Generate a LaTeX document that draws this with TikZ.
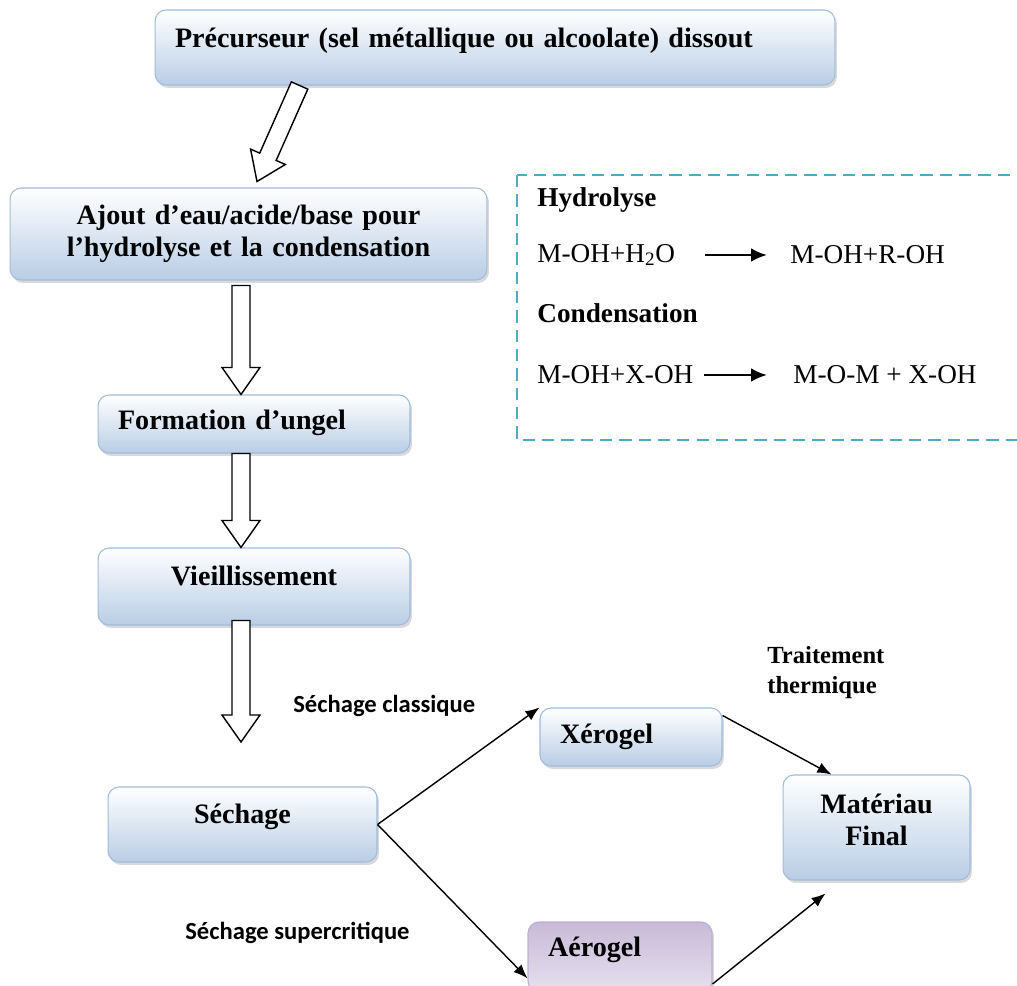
\documentclass[tikz,border=0pt]{standalone}
\usepackage{fontspec}
\setmainfont{Liberation Serif}
\newfontfamily\labelfont{Carlito}
\usepackage{tikz}
\usetikzlibrary{positioning,shadows,arrows.meta,shapes,calc}

\definecolor{boxblue}{RGB}{185,205,229}
\definecolor{boxline}{RGB}{160,188,220}
\definecolor{aerotop}{RGB}{200,186,216}
\definecolor{aerobottom}{RGB}{230,225,238}
\definecolor{aeroline}{RGB}{190,175,210}
\definecolor{dashblue}{RGB}{75,172,198}

\tikzset {
    style A/.style={
        top color=white,
        bottom color=boxblue,
        draw=boxline,
        semithick,
        rectangle, % Set the shape as a rectangle
        rounded corners=.22cm,
        inner xsep=.4cm,
        font=\fontsize{16}{18}\selectfont\bfseries,
        drop shadow={opacity=.3, shadow xshift=.04cm, shadow yshift=-.06cm},
    },
    style B/.style={
        style A,
        top color=aerotop,
        bottom color=aerobottom,
        draw=aeroline,
    },
    style C/.style={
        font=\labelfont\fontsize{14}{17}\selectfont\bfseries,
        inner sep=0pt,
        anchor=west,
    },
    style D/.style={
        font=\fontsize{15.5}{18}\selectfont,
        inner sep=0pt,
        anchor=west,
    },
    style E/.style={
        draw=black,
        fill=white,
        line width=.8pt,
        line join=miter,
    },
    style F/.style={
        thick,
        -{Latex[length=.28cm,width=.22cm]},
    },
    style G/.style={
        line width=1.6pt,
        -{Latex[length=.32cm,width=.28cm]},
    },
}

% hollow block arrow between two points
\newcommand{\hollowarrow}[2]{%
    \coordinate (ha tail) at (#1);
    \coordinate (ha tip) at (#2);
    \coordinate (ha head) at ($(ha tip)!.54cm!(ha tail)$);
    \draw[style E] ($(ha tail)!.18cm!90:(ha tip)$)
        -- ($(ha head)!.18cm!90:(ha tip)$)
        -- ($(ha head)!.38cm!90:(ha tip)$)
        -- (ha tip)
        -- ($(ha head)!.38cm!-90:(ha tip)$)
        -- ($(ha head)!.18cm!-90:(ha tip)$)
        -- ($(ha tail)!.18cm!-90:(ha tip)$) -- cycle;
}

\begin{document}
\begin{tikzpicture}[x=.02cm, y=-.02cm]
    \useasboundingbox (0,0) rectangle (1017,986);
    \coordinate (axis) at (241,0);

    \node[style A, text width=12.8cm, minimum height=1.5cm, align=left, text depth=.38cm] (prec) at (495,47.5) {Précurseur (sel métallique ou alcoolate) dissout};
    \node[style A, text width=8.74cm, minimum height=1.84cm, align=center] (ajout) at (248.5,234) {Ajout d’eau/acide/base pour\\l’hydrolyse et la condensation};
    \node[style A, text width=5.44cm, minimum height=1.16cm, align=left, text depth=.16cm] (formation) at (254,424) {Formation d’ungel};
    \node[style A, text width=5.44cm, minimum height=1.54cm, align=center, text depth=.44cm] (vieil) at (254,586.5) {Vieillissement};
    \node[style A, text width=4.58cm, minimum height=1.5cm, align=center, text depth=.44cm] (sechage) at (242.5,824.5) {Séchage};
    \node[style A, text width=2.84cm, minimum height=1.16cm, align=left] (xerogel) at (631,737) {Xérogel};
    \node[style B, text width=2.88cm, minimum height=1.4cm, align=left, text depth=.4cm] (aerogel) at (620,957) {Aérogel};
    \node[style A, text width=2.94cm, minimum height=2.1cm, align=center, text depth=.95cm] (materiau) at (876.5,827.5) {Matériau\\Final};

    \draw[dashblue, line width=1pt, dash pattern=on 7pt off 4pt] (517,175) rectangle (1030,440);
    \node[style D, font=\fontsize{15.5}{18}\selectfont\bfseries] (hydro) at (537,200) {Hydrolyse};
    \node[style D] (eq1a) at (537,255) {M-OH+H\textsubscript{2}O};
    \node[style D] (eq1b) at (790,255) {M-OH+R-OH};
    \node[style D, font=\fontsize{15.5}{18}\selectfont\bfseries] (cond) at (537,313) {Condensation};
    \node[style D] (eq2a) at (537,375) {M-OH+X-OH};
    \node[style D] (eq2b) at (793,375) {M-O-M + X-OH};
    \draw[style G, shorten <=.6cm, shorten >=.46cm] (eq1a.east) -- (eq1b.west);
    \draw[style G, shorten <=.2cm, shorten >=.52cm] (eq2a.east) -- (eq2b.west);

    \node[style C] (classique) at (293,706) {Séchage classique};
    \node[style C] (supercrit) at (185,933) {Séchage supercritique};
    \node[style D, font=\fontsize{14}{17}\selectfont\bfseries, align=left] (traitement) at (767,673) {Traitement\\thermique};

    \hollowarrow{$(prec.south west)!.213!(prec.south east)$}{[xshift=.17cm,yshift=.12cm]ajout.north}
    \hollowarrow{[yshift=-.1cm]ajout.south -| axis}{formation.north -| axis}
    \hollowarrow{formation.south -| axis}{vieil.north -| axis}
    \coordinate (sechage top) at (241,742);
    \hollowarrow{[yshift=.1cm]vieil.south -| axis}{sechage top}

    \draw[style F] (sechage.east) -- (xerogel.north west);
    \draw[style F] (sechage.east) -- ($(aerogel.west)!.6!(aerogel.south west)$);
    \draw[style F] ([yshift=-.16cm]xerogel.north east) -- ($(materiau.north west)!.26!(materiau.north east)$);
    \draw[style F] ([yshift=-.54cm]aerogel.east) -- ([xshift=.86cm,yshift=-.26cm]materiau.south west);
\end{tikzpicture}
\end{document}
